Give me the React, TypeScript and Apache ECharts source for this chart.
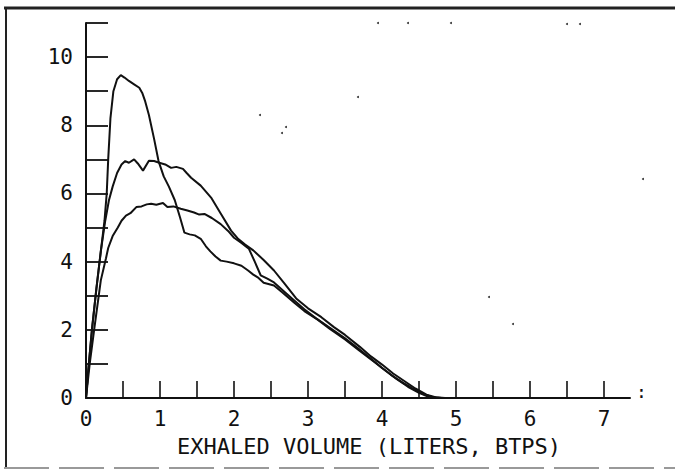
import React, { useEffect, useRef } from "react";
import * as echarts from "echarts";

// Flow-volume curves: [exhaled volume (L, BTPS), flow (L/s)]
const curveTall: [number, number][] = [
  [0, 0], [0.03, 0.8], [0.08, 2.0], [0.14, 3.2], [0.2, 4.3], [0.25, 5.2], [0.28, 6.0], [0.3, 7.0],
  [0.33, 8.2], [0.37, 9.0], [0.42, 9.35], [0.47, 9.47], [0.52, 9.4], [0.58, 9.3], [0.65, 9.2],
  [0.72, 9.1], [0.76, 8.95], [0.8, 8.7], [0.85, 8.3], [0.92, 7.6], [0.98, 6.95], [1.05, 6.5],
  [1.12, 6.2], [1.2, 5.8], [1.27, 5.3], [1.33, 4.85], [1.4, 4.8], [1.47, 4.77], [1.55, 4.67],
  [1.62, 4.45], [1.68, 4.3], [1.75, 4.15], [1.82, 4.03], [1.9, 4.0], [2.0, 3.95], [2.1, 3.88],
  [2.19, 3.74], [2.26, 3.62], [2.32, 3.54], [2.4, 3.38], [2.54, 3.3], [2.65, 3.1], [2.81, 2.8],
  [2.95, 2.55], [3.13, 2.3], [3.3, 2.02], [3.5, 1.72], [3.7, 1.38], [3.9, 1.05], [4.05, 0.8],
  [4.2, 0.55], [4.35, 0.33], [4.5, 0.15], [4.62, 0.04], [4.75, 0],
];
const curveMid: [number, number][] = [
  [0, 0], [0.03, 0.8], [0.08, 2.0], [0.14, 3.2], [0.2, 4.3], [0.26, 5.2], [0.31, 5.8], [0.36, 6.2],
  [0.42, 6.6], [0.48, 6.85], [0.53, 6.95], [0.58, 6.9], [0.65, 7.0], [0.7, 6.88], [0.77, 6.67],
  [0.85, 6.96], [0.92, 6.95], [0.99, 6.9], [1.07, 6.85], [1.15, 6.75], [1.22, 6.78], [1.31, 6.72],
  [1.36, 6.6], [1.42, 6.46], [1.55, 6.23], [1.69, 5.88], [1.82, 5.41], [1.96, 4.91], [2.05, 4.68],
  [2.15, 4.5], [2.26, 4.33], [2.4, 4.05], [2.54, 3.74], [2.68, 3.36], [2.84, 2.92], [3.0, 2.63],
  [3.18, 2.37], [3.35, 2.08], [3.5, 1.85], [3.7, 1.5], [3.85, 1.22], [4.0, 0.98], [4.15, 0.72],
  [4.3, 0.5], [4.45, 0.28], [4.6, 0.1], [4.72, 0.02], [4.85, 0],
];
const curveLow: [number, number][] = [
  [0, 0], [0.01, 0.2], [0.05, 1.0], [0.11, 2.0], [0.2, 3.45], [0.27, 4.1], [0.3, 4.4], [0.36, 4.75],
  [0.43, 5.0], [0.48, 5.2], [0.54, 5.35], [0.6, 5.42], [0.68, 5.6], [0.75, 5.62], [0.82, 5.68],
  [0.88, 5.7], [0.95, 5.67], [1.04, 5.72], [1.1, 5.6], [1.18, 5.62], [1.28, 5.55], [1.37, 5.5],
  [1.46, 5.44], [1.53, 5.38], [1.6, 5.4], [1.7, 5.28], [1.82, 5.1], [1.92, 4.9], [2.0, 4.7],
  [2.1, 4.55], [2.2, 4.38], [2.28, 4.0], [2.36, 3.6], [2.45, 3.5], [2.54, 3.39], [2.68, 3.12],
  [2.81, 2.87], [2.95, 2.6], [3.1, 2.35], [3.3, 2.05], [3.5, 1.75], [3.68, 1.45], [3.85, 1.15],
  [4.0, 0.88], [4.12, 0.68], [4.28, 0.45], [4.4, 0.3], [4.55, 0.12], [4.68, 0.03], [4.8, 0],
];

const xTicks = [0.5, 1, 1.5, 2, 2.5, 3, 3.5, 4, 4.5, 5, 5.5, 6, 6.5, 7];
const xLabels = [0, 1, 2, 3, 4, 5, 6, 7];
const yTicks = [1, 2, 3, 4, 5, 6, 7, 8, 9, 10, 11];
const yLabels = [0, 2, 4, 6, 8, 10];
const xTitle = "EXHALED VOLUME (LITERS, BTPS)";

// scan specks (pixel positions, decoration only)
const specks: [number, number][] = [
  [260, 115], [286, 127], [282, 133], [378, 23], [408, 23], [451, 23], [567, 24], [580, 24],
  [358, 97], [643, 179], [489, 297], [513, 324],
];

const INK = "#111";
const FONT = "DejaVu Sans Mono";

export default function App() {
  const ref = useRef<HTMLDivElement>(null);
  useEffect(() => {
    if (!ref.current) return;
    const chart = echarts.init(ref.current, null, { renderer: "svg" });
    const lineSeries = (data: [number, number][]) => ({
      type: "line",
      data,
      showSymbol: false,
      smooth: false,
      lineStyle: { color: INK, width: 2 },
      z: 3,
    });
    chart.setOption({
      animation: false,
      backgroundColor: "#fff",
      grid: { left: 86, right: 45, top: 23, bottom: 72 },
      xAxis: {
        type: "value",
        min: 0,
        max: 7.35,
        interval: 0.5,
        splitLine: { show: false },
        axisLine: { show: true, lineStyle: { color: INK, width: 2 } },
        axisTick: {
          show: true,
          inside: true,
          length: 17,
          customValues: xTicks,
          lineStyle: { color: INK, width: 1.6 },
        },
        axisLabel: {
          customValues: xLabels,
          color: INK,
          fontFamily: FONT,
          fontSize: 21,
          margin: 10,
        },
      },
      yAxis: {
        type: "value",
        min: 0,
        max: 11,
        interval: 1,
        splitLine: { show: false },
        axisLine: { show: true, lineStyle: { color: INK, width: 2 } },
        axisTick: {
          show: true,
          inside: true,
          length: 22,
          customValues: yTicks,
          lineStyle: { color: INK, width: 1.8 },
        },
        axisLabel: {
          customValues: yLabels,
          color: INK,
          fontFamily: FONT,
          fontSize: 21,
          margin: 13,
        },
      },
      series: [lineSeries(curveTall), lineSeries(curveMid), lineSeries(curveLow)],
      graphic: [
        { type: "line", shape: { x1: 4, y1: 8, x2: 675, y2: 8 }, style: { stroke: "#222", lineWidth: 3 } },
        { type: "line", shape: { x1: 6, y1: 7, x2: 6, y2: 469 }, style: { stroke: "#222", lineWidth: 2 } },
        {
          type: "line",
          shape: { x1: 4, y1: 468, x2: 675, y2: 468 },
          style: { stroke: "#999", lineWidth: 2, lineDash: [45, 10] },
        },
        {
          type: "text",
          x: 177,
          y: 446,
          style: { text: xTitle, fill: INK, font: `22px "${FONT}"`, textVerticalAlign: "middle" },
        },
        {
          type: "text",
          x: 636,
          y: 391,
          style: { text: ":", fill: INK, font: `18px "${FONT}"`, textVerticalAlign: "middle" },
        },
        ...specks.map(([x, y]) => ({
          type: "circle",
          shape: { cx: x, cy: y, r: 1 },
          style: { fill: "#333" },
        })),
      ],
    });
    return () => chart.dispose();
  }, []);
  return (
    <div
      ref={ref}
      style={{ position: "fixed", left: 0, top: 0, width: 675, height: 470, background: "#fff" }}
    />
  );
}
